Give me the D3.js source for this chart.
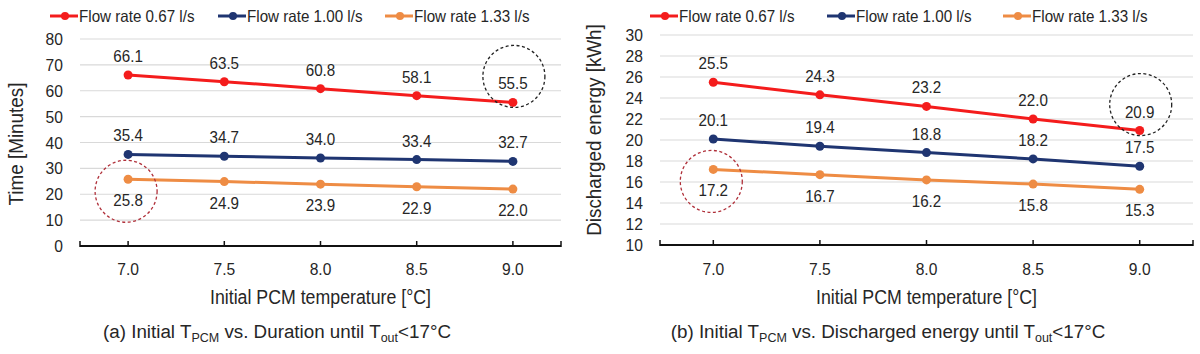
<!DOCTYPE html>
<html>
<head>
<meta charset="utf-8">
<script src="https://cdn.jsdelivr.net/npm/d3@7"></script>
<style>
  body { margin: 0; background: #fff; }
  svg { display: block; font-family: "Liberation Sans", Arial, sans-serif; }
</style>
</head>
<body>
<svg id="chart" width="1200" height="354"></svg>
<script>
// data
const temps = ["7.0", "7.5", "8.0", "8.5", "9.0"];
const seriesNames = ["Flow rate 0.67 l/s", "Flow rate 1.00 l/s", "Flow rate 1.33 l/s"];
const colors = ["#f41c1c", "#1f3571", "#ee8c44"];
const durationTicks = [0, 10, 20, 30, 40, 50, 60, 70, 80];
const energyTicks = [10, 12, 14, 16, 18, 20, 22, 24, 26, 28, 30];
const duration067 = [66.1, 63.5, 60.8, 58.1, 55.5];
const duration100 = [35.4, 34.7, 34.0, 33.4, 32.7];
const duration133 = [25.8, 24.9, 23.9, 22.9, 22.0];
const energy067 = [25.5, 24.3, 23.2, 22.0, 20.9];
const energy100 = [20.1, 19.4, 18.8, 18.2, 17.5];
const energy133 = [17.2, 16.7, 16.2, 15.8, 15.3];

const svg = d3.select("#chart");
const SX = 0.92; // glyphs in the picture look a bit narrow
const textColor = "#262626";

function txt(g, x, y, str, anchor, size, sx) {
  return g.append("text")
    .attr("transform", `translate(${x},${y}) scale(${sx || SX},1)`)
    .attr("text-anchor", anchor || "middle")
    .attr("font-size", size || 16)
    .attr("fill", textColor)
    .text(str);
}

function drawPanel(cfg) {
  const g = svg.append("g");
  const x = d3.scalePoint().domain(temps).range([cfg.x0, cfg.x1]).padding(0.5);
  const y = d3.scaleLinear().domain([cfg.ticks[0], cfg.ticks[cfg.ticks.length - 1]]).range([cfg.yBottom, cfg.yTop]);

  // grid
  g.selectAll(".grid").data(cfg.ticks.slice(1)).enter().append("line")
    .attr("x1", cfg.x0).attr("x2", cfg.x1)
    .attr("y1", d => y(d)).attr("y2", d => y(d))
    .attr("stroke", "#d9d9d9").attr("stroke-width", 1.2);

  // y tick labels
  cfg.ticks.forEach(t => txt(g, cfg.x0 - 17, y(t) + 6, String(t), "end", 17));

  // x axis
  g.append("line").attr("x1", cfg.x0).attr("x2", cfg.x1)
    .attr("y1", cfg.yBottom).attr("y2", cfg.yBottom)
    .attr("stroke", "#111").attr("stroke-width", 2);
  const tickXs = temps.map(t => x(t)).concat([cfg.x0, cfg.x1]);
  g.selectAll(".tick").data(tickXs).enter().append("line")
    .attr("x1", d => d).attr("x2", d => d)
    .attr("y1", cfg.yBottom - 5).attr("y2", cfg.yBottom + 1)
    .attr("stroke", "#111").attr("stroke-width", 1.5);
  temps.forEach(t => txt(g, x(t), 275, t, "middle", 17));

  // axis titles
  txt(g, (cfg.x0 + cfg.x1) / 2, 304, "Initial PCM temperature [°C]", "middle", 19.3);
  g.append("text")
    .attr("transform", `translate(${cfg.yTitleX},${cfg.yTitleY}) rotate(-90) scale(${SX},1)`)
    .attr("text-anchor", "middle").attr("font-size", 20.5).attr("fill", textColor)
    .text(cfg.yTitle);

  // lines, markers, labels
  const line = d3.line().x((d, i) => x(temps[i])).y(d => y(d));
  cfg.series.forEach((vals, si) => {
    g.append("path").datum(vals)
      .attr("d", line).attr("fill", "none")
      .attr("stroke", colors[si]).attr("stroke-width", 3);
    g.selectAll(".dot" + si).data(vals).enter().append("circle")
      .attr("cx", (d, i) => x(temps[i])).attr("cy", d => y(d))
      .attr("r", 4.5).attr("fill", colors[si]);
    vals.forEach((v, i) => {
      const dy = si === 2 ? 27 : -13;
      txt(g, x(temps[i]), y(v) + dy, v.toFixed(1), "middle", 16.5);
    });
  });

  // dashed highlight circles
  g.append("circle")
    .attr("cx", x(temps[0]) - 2).attr("cy", y(cfg.series[2][0]) + 12).attr("r", 31)
    .attr("fill", "none").attr("stroke", "#b0303a").attr("stroke-width", 1.3)
    .attr("stroke-dasharray", "3,2.5");
  g.append("circle")
    .attr("cx", x(temps[4]) + 1).attr("cy", y(cfg.series[0][4]) - 26).attr("r", 31)
    .attr("fill", "none").attr("stroke", "#222").attr("stroke-width", 1.3)
    .attr("stroke-dasharray", "3,2.5");

  // legend
  cfg.legendX.forEach((lx, si) => {
    g.append("line").attr("x1", lx).attr("x2", lx + 28)
      .attr("y1", 16).attr("y2", 16)
      .attr("stroke", colors[si]).attr("stroke-width", 3);
    g.append("circle").attr("cx", lx + 15).attr("cy", 16).attr("r", 4).attr("fill", colors[si]);
    txt(g, lx + 29, 22, seriesNames[si], "start", 16.5);
  });

  // caption
  const cap = g.append("text")
    .attr("transform", `translate(${cfg.capX},338)`)
    .attr("text-anchor", "middle").attr("font-size", 18.8).attr("fill", textColor);
  cap.append("tspan").text(cfg.capA + " Initial T");
  cap.append("tspan").attr("font-size", 12.5).attr("dy", 4).text("PCM");
  cap.append("tspan").attr("dy", -4).text(" vs. " + cfg.capB + " until T");
  cap.append("tspan").attr("font-size", 12.5).attr("dy", 4).text("out");
  cap.append("tspan").attr("dy", -4).text("<17°C");
}

drawPanel({
  x0: 80, x1: 561, yTop: 39, yBottom: 246,
  ticks: durationTicks,
  series: [duration067, duration100, duration133],
  yTitle: "Time [Minutes]", yTitleX: 23, yTitleY: 144,
  legendX: [50, 218, 385],
  capX: 277, capA: "(a)", capB: "Duration"
});

drawPanel({
  x0: 660, x1: 1193, yTop: 35, yBottom: 245,
  ticks: energyTicks,
  series: [energy067, energy100, energy133],
  yTitle: "Discharged energy [kWh]", yTitleX: 601, yTitleY: 130,
  legendX: [650, 827, 1003],
  capX: 888, capA: "(b)", capB: "Discharged energy"
});
</script>
</body>
</html>
